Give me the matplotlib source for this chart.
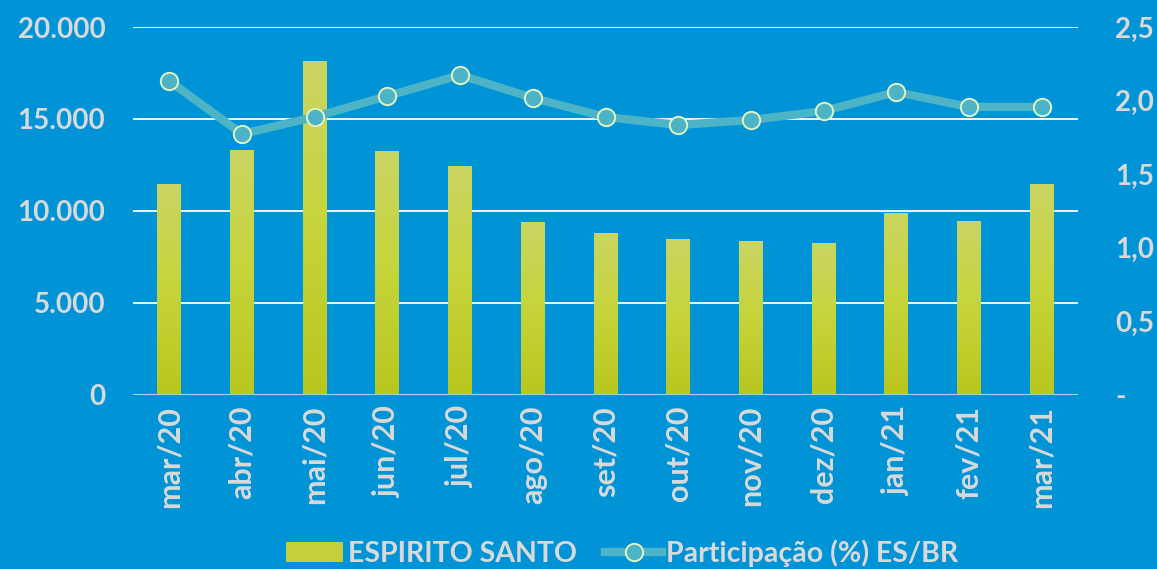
import numpy as np
import matplotlib
matplotlib.use("Agg")
import matplotlib.pyplot as plt
from matplotlib.ticker import FixedLocator

# dados
meses = ["mar/20", "abr/20", "mai/20", "jun/20", "jul/20", "ago/20", "set/20",
         "out/20", "nov/20", "dez/20", "jan/21", "fev/21", "mar/21"]
espirito_santo = [11470, 13300, 18150, 13260, 12450, 9400, 8800,
                  8480, 8370, 8260, 9890, 9460, 11470]
participacao = [2.133, 1.773, 1.889, 2.031, 2.174, 2.018, 1.889,
                1.834, 1.868, 1.929, 2.058, 1.957, 1.957]

left_ticks = [0, 5000, 10000, 15000, 20000]
left_labels = ["0", "5.000", "10.000", "15.000", "20.000"]
right_ticks = [0, 0.5, 1.0, 1.5, 2.0, 2.5]
right_labels = ["-", "0,5", "1,0", "1,5", "2,0", "2,5"]

bg = "#0093D5"
txt = "#D9D9D9"
bar_col = "#C3D03C"
line_col = "#4DB3C6"
edge_col = "#E2F2C0"

plt.rcParams["font.family"] = ["Lato", "DejaVu Sans"]
plt.rcParams["font.weight"] = "bold"

fig = plt.figure(figsize=(11.57, 5.69), dpi=100, facecolor=bg)
ax = fig.add_axes([0.115, 0.306, 0.8167, 0.6465])
ax.set_facecolor(bg)
x = np.arange(len(meses))

bars = ax.bar(x, espirito_santo, width=0.33, color=bar_col, zorder=2,
              label="ESPIRITO SANTO")

# gradiente nas barras
grad = np.linspace(0, 1, 256).reshape(-1, 1)
cmap = matplotlib.colors.LinearSegmentedColormap.from_list(
    "g", ["#B9C61F", "#C6D43A", "#CAD562"])
for b in bars:
    bx, by = b.get_x(), b.get_y()
    w, h = b.get_width(), b.get_height()
    im = ax.imshow(grad, cmap=cmap, aspect="auto", origin="lower",
                   extent=[bx, bx + w, by, by + h], zorder=2)
    im.set_clip_path(b)

ax.set_xlim(-0.5, len(meses) - 0.5)
ax.set_ylim(0, 20000)
ax.yaxis.set_major_locator(FixedLocator(left_ticks))
ax.set_yticklabels(left_labels)
ax.set_xticks(x)
ax.set_xticklabels(meses, rotation=90)
ax.grid(axis="y", color="white", linewidth=1.3, zorder=1)
ax.axhline(0, color="#9FD4EE", linewidth=2, zorder=3)
for s in ax.spines.values():
    s.set_visible(False)
ax.tick_params(length=0, colors=txt, labelsize=20)
ax.tick_params(axis="x", labelsize=22, pad=8)
ax.tick_params(axis="y", pad=20)

ax2 = ax.twinx()
ax2.set_ylim(0, 2.5)
ax2.yaxis.set_major_locator(FixedLocator(right_ticks))
ax2.set_yticklabels(right_labels)
for s in ax2.spines.values():
    s.set_visible(False)
ax2.tick_params(length=0, colors=txt, labelsize=20, pad=27)
ax2.plot(x, participacao, color=line_col, linewidth=6, marker="o",
         markersize=12.5, markerfacecolor=line_col, markeredgecolor=edge_col,
         markeredgewidth=1.4, zorder=4, label="Participação (%) ES/BR")

h1, l1 = ax.get_legend_handles_labels()
h2, l2 = ax2.get_legend_handles_labels()
leg = fig.legend(h1 + h2, l1 + l2, loc="center", bbox_to_anchor=(0.538, 0.028),
                 ncol=2, frameon=False, fontsize=20.5, handlelength=2.0,
                 handletextpad=0.15, columnspacing=1.0, labelcolor=txt)

fig.savefig("out.png", dpi=100, facecolor=bg)
